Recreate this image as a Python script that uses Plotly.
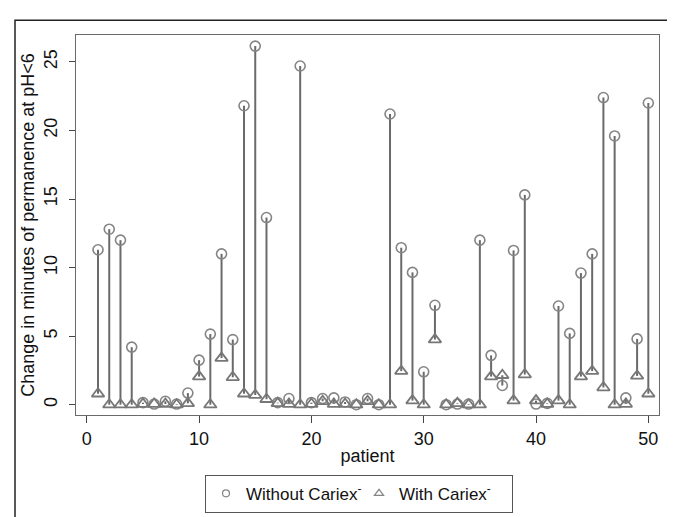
import plotly.graph_objects as go

patients = list(range(1, 51))
without_cariex = [11.3, 12.8, 12.0, 4.2, 0.15, 0.05, 0.25, 0.05, 0.85, 3.25,
                  5.15, 11.0, 4.75, 21.8, 26.15, 13.65, 0.15, 0.45, 24.7, 0.15,
                  0.45, 0.5, 0.2, 0.0, 0.45, 0.0, 21.2, 11.45, 9.65, 2.4,
                  7.25, 0.0, 0.05, 0.05, 12.0, 3.6, 1.4, 11.25, 15.3, 0.05,
                  0.1, 7.2, 5.2, 9.6, 11.0, 22.4, 19.6, 0.5, 4.8, 22.0]
with_cariex = [0.8, 0.0, 0.0, 0.0, 0.05, 0.05, 0.05, 0.0, 0.1, 2.05,
               0.0, 3.4, 2.0, 0.8, 0.7, 0.4, 0.1, 0.05, 0.0, 0.05,
               0.25, 0.05, 0.05, 0.0, 0.25, 0.0, 0.0, 2.45, 0.3, 0.0,
               4.75, 0.0, 0.1, 0.0, 0.0, 2.05, 2.15, 0.3, 2.2, 0.3,
               0.05, 0.3, 0.0, 2.05, 2.45, 1.25, 0.0, 0.05, 2.1, 0.8]
x_ticks = [0, 10, 20, 30, 40, 50]
y_ticks = [0, 5, 10, 15, 20, 25]
legend_names = ["Without Cariex<sup>-</sup>", "With Cariex<sup>-</sup>"]

FONT = "Liberation Sans, Arial, sans-serif"
FS = 18

# stems
sx, sy = [], []
for p, a, b in zip(patients, with_cariex, without_cariex):
    sx += [p, p, None]
    sy += [a, b, None]

fig = go.Figure()
fig.add_trace(go.Scatter(x=sx, y=sy, mode="lines", showlegend=False,
                         line=dict(color="#6a6a6a", width=2), hoverinfo="skip"))
fig.add_trace(go.Scatter(x=patients, y=without_cariex, mode="markers", showlegend=False,
                         marker=dict(symbol="circle-open", size=10, color="#858585",
                                     line=dict(width=1.6, color="#858585"))))
fig.add_trace(go.Scatter(x=patients, y=with_cariex, mode="markers", showlegend=False,
                         marker=dict(symbol="triangle-up-open", size=11, color="#777777",
                                     line=dict(width=1.8, color="#777777"))))
# legend entries with small symbols
fig.add_trace(go.Scatter(x=[None], y=[None], mode="markers", name=legend_names[0],
                         marker=dict(symbol="circle-open", size=7, color="#858585",
                                     line=dict(width=1.2, color="#858585"))))
fig.add_trace(go.Scatter(x=[None], y=[None], mode="markers", name=legend_names[1],
                         marker=dict(symbol="triangle-up-open", size=8, color="#858585",
                                     line=dict(width=1.2, color="#858585"))))

W, H = 675, 517
L, R, T, B = 68, 24, 27, 102
pw, ph = W - L - R, H - T - B

def px2x(px):
    return (px - L) / pw

def py2y(py):
    return (H - B - py) / ph

# outer frame (left and top edges)
fig.add_shape(type="path", xref="paper", yref="paper",
              path=f"M {px2x(7)} {py2y(530)} L {px2x(7)} {py2y(12)} L {px2x(690)} {py2y(12)}",
              line=dict(color="#222222", width=1.5))

fig.update_layout(
    width=W, height=H,
    margin=dict(l=L, r=R, t=T, b=B),
    paper_bgcolor="white", plot_bgcolor="white",
    font=dict(family=FONT, size=FS, color="#111111"),
    xaxis=dict(range=[-0.96, 50.95], tickvals=x_ticks, ticks="outside", ticklen=7,
               tickcolor="#444", showgrid=False, zeroline=False,
               showline=True, mirror=True, linecolor="#6a6a6a", linewidth=1,
               tickfont=dict(size=FS), title=dict(text="patient", font=dict(size=FS), standoff=1)),
    yaxis=dict(range=[-0.75, 26.96], tickvals=y_ticks, ticks="outside", ticklen=6,
               tickcolor="#444", showgrid=False, zeroline=False, tickangle=-90,
               ticklabelstandoff=5,
               showline=True, mirror=True, linecolor="#6a6a6a", linewidth=1,
               tickfont=dict(size=FS),
               title=dict(text="Change in minutes of permanence at pH<6", font=dict(size=FS), standoff=1)),
    legend=dict(orientation="h", x=px2x(351), xanchor="center", y=py2y(476), yanchor="top",
                bordercolor="#555555", borderwidth=1, bgcolor="white",
                font=dict(size=17), itemwidth=30, tracegroupgap=0,
                entrywidth=108, itemsizing="trace"),
)

fig.write_html("out.html")
